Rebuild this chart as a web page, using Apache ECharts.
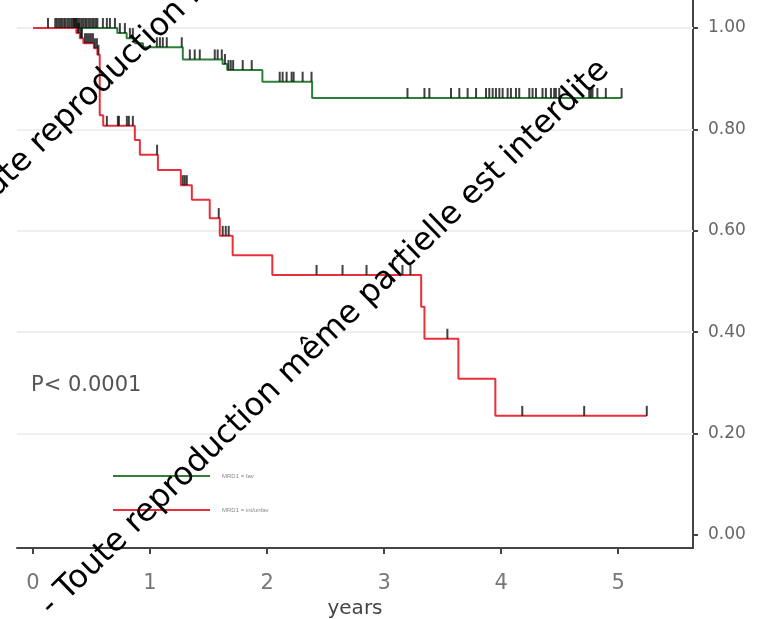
<!DOCTYPE html>
<html>
<head>
<meta charset="utf-8">
<script src="https://cdn.jsdelivr.net/npm/echarts@6/dist/echarts.min.js"></script>
<style>
  html, body { margin: 0; padding: 0; background: #fff; }
  #chart { width: 765px; height: 619px; }
</style>
</head>
<body>
<div id="chart"></div>
<script>
// Axis ticks
const yearTicks = [0, 1, 2, 3, 4, 5];
const survivalTicks = [0, 0.2, 0.4, 0.6, 0.8, 1.0];
const gridLevels = [0.2, 0.4, 0.6, 0.8, 1.0];

// MRD1 = fav : event times (years) and survival after each step
const favTimes = [0, 0.72, 0.80, 0.87, 0.94, 1.28, 1.62, 1.66, 1.96, 2.385, 5.03];
const favSurv  = [1.0, 0.99, 0.98, 0.97, 0.962, 0.938, 0.929, 0.917, 0.894, 0.862, 0.862];
// MRD1 = fav : censored observations
const favCensor = [
  0.128, 0.19, 0.204, 0.221, 0.236, 0.249, 0.266, 0.279, 0.296, 0.31, 0.326, 0.339,
  0.355, 0.371, 0.385, 0.40, 0.416, 0.43, 0.446, 0.459, 0.476, 0.49, 0.506, 0.52,
  0.537, 0.55, 0.597, 0.631, 0.657, 0.70, 0.742, 0.785, 0.828, 0.853,
  1.058, 1.084, 1.109, 1.143, 1.271, 1.34, 1.382, 1.425, 1.553, 1.578, 1.613,
  1.64, 1.67, 1.69, 1.71, 1.792, 1.869,
  2.108, 2.133, 2.167, 2.21, 2.227, 2.304, 2.38,
  3.20, 3.345, 3.387, 3.572, 3.643, 3.714, 3.786, 3.871, 3.899, 3.928, 3.956, 3.985,
  4.013, 4.056, 4.084, 4.127, 4.155, 4.241, 4.269, 4.298, 4.354, 4.383, 4.426, 4.454,
  4.468, 4.497, 4.753, 4.767, 4.781, 4.823, 4.895, 5.03
];

// MRD1 = int/unfav : event times (years) and survival after each step
const unfavTimes = [0, 0.37, 0.40, 0.43, 0.52, 0.55, 0.57, 0.60, 0.87, 0.913, 1.067, 1.263,
  1.357, 1.51, 1.596, 1.706, 2.045, 3.317, 3.345, 3.635, 3.951, 5.245];
const unfavSurv  = [1.0, 0.99, 0.98, 0.97, 0.96, 0.947, 0.828, 0.807, 0.779, 0.75, 0.72, 0.69,
  0.661, 0.625, 0.59, 0.552, 0.513, 0.45, 0.387, 0.308, 0.235, 0.235];
// MRD1 = int/unfav : censored observations
const unfavCensor = [
  0.35, 0.367, 0.384, 0.392, 0.41, 0.418, 0.444, 0.461, 0.478, 0.495, 0.512, 0.529, 0.546, 0.559,
  0.631, 0.725, 0.734, 0.802, 0.819, 0.853, 1.06, 1.28, 1.297, 1.314, 1.587,
  1.621, 1.647, 1.672, 2.423, 2.645, 2.85, 3.157, 3.225, 3.541, 4.181, 4.71, 5.245
];

const seriesNames = ['MRD1 = fav', 'MRD1 = int/unfav'];
const pValueText = 'P< 0.0001';
const watermarkText = '- Toute reproduction même partielle est interdite';

const GREEN = '#2e8039';
const RED = '#e8303c';

function pairs(times, surv) {
  return times.map((t, i) => [t, surv[i]]);
}
// survival level in force at time t
function levelAt(times, surv, t) {
  let s = surv[0];
  for (let i = 0; i < times.length; i++) {
    if (times[i] <= t + 1e-9) s = surv[i];
  }
  return s;
}
function censorPoints(times, surv, censor) {
  return censor.map(t => [t, levelAt(times, surv, t)]);
}

const chart = echarts.init(document.getElementById('chart'));
const angle = 44.3 * Math.PI / 180;
const wmStyle = {
  text: watermarkText,
  x: 0, y: 0,
  fill: '#000',
  font: '32px "DejaVu Sans", sans-serif',
  textAlign: 'center',
  textVerticalAlign: 'middle'
};

const censorStyle = {
  type: 'scatter',
  symbol: 'rect',
  symbolSize: [2, 10],
  symbolOffset: [0, -5],
  itemStyle: { color: '#111' },
  silent: true,
  z: 5
};

chart.setOption({
  backgroundColor: '#fff',
  animation: false,
  grid: { left: 17, right: 72, top: 0, bottom: 71, outerBoundsMode: 'none', containLabel: false },
  xAxis: {
    type: 'value',
    min: -0.137,
    max: 5.64,
    axisLine: { onZero: false, lineStyle: { color: '#444', width: 2 } },
    axisTick: { customValues: yearTicks, length: 6, lineStyle: { color: '#444', width: 2 } },
    axisLabel: { customValues: yearTicks, fontSize: 21, color: '#777', margin: 25, fontFamily: 'DejaVu Sans' },
    splitLine: { show: false },
    name: 'years',
    nameLocation: 'middle',
    nameGap: 49,
    nameTextStyle: { fontSize: 20, color: '#444', fontFamily: 'DejaVu Sans' }
  },
  yAxis: {
    type: 'value',
    position: 'right',
    min: -0.0256,
    max: 1.0552,
    axisLine: { show: true, onZero: false, lineStyle: { color: '#444', width: 2 } },
    axisTick: { show: true, customValues: survivalTicks, length: 5, lineStyle: { color: '#444', width: 2 } },
    axisLabel: {
      customValues: survivalTicks, fontSize: 17, color: '#666', margin: 15, fontFamily: 'DejaVu Sans',
      formatter: v => v.toFixed(2)
    },
    splitLine: { show: false }
  },
  legend: {
    data: seriesNames,
    orient: 'vertical',
    left: 113,
    top: 473,
    icon: 'rect',
    itemWidth: 97,
    itemHeight: 2,
    itemGap: 28,
    padding: 0,
    textStyle: { fontSize: 6, color: '#888', padding: [0, 0, 0, 7] }
  },
  series: [
    {
      name: seriesNames[0],
      type: 'line',
      step: 'end',
      data: pairs(favTimes, favSurv),
      showSymbol: false,
      lineStyle: { color: GREEN, width: 2 },
      itemStyle: { color: GREEN },
      z: 3,
      markLine: {
        silent: true,
        symbol: 'none',
        label: { show: false },
        lineStyle: { color: '#efefef', width: 2, type: 'solid' },
        data: gridLevels.map(v => ({ yAxis: v })),
        z: 1
      }
    },
    {
      name: seriesNames[1],
      type: 'line',
      step: 'end',
      data: pairs(unfavTimes, unfavSurv),
      showSymbol: false,
      lineStyle: { color: RED, width: 2 },
      itemStyle: { color: RED },
      z: 3
    },
    Object.assign({ name: 'censor-fav', data: censorPoints(favTimes, favSurv, favCensor) }, censorStyle),
    Object.assign({ name: 'censor-unfav', data: censorPoints(unfavTimes, unfavSurv, unfavCensor) }, censorStyle)
  ],
  graphic: [
    {
      type: 'text',
      left: 31,
      top: 375,
      style: { text: pValueText, fill: '#555', font: '21px "DejaVu Sans", sans-serif' }
    },
    { type: 'text', x: 325, y: 338, rotation: angle, z: 100, style: wmStyle },
    { type: 'text', x: 230, y: -42, rotation: angle, z: 100, style: wmStyle }
  ]
});
</script>
</body>
</html>
